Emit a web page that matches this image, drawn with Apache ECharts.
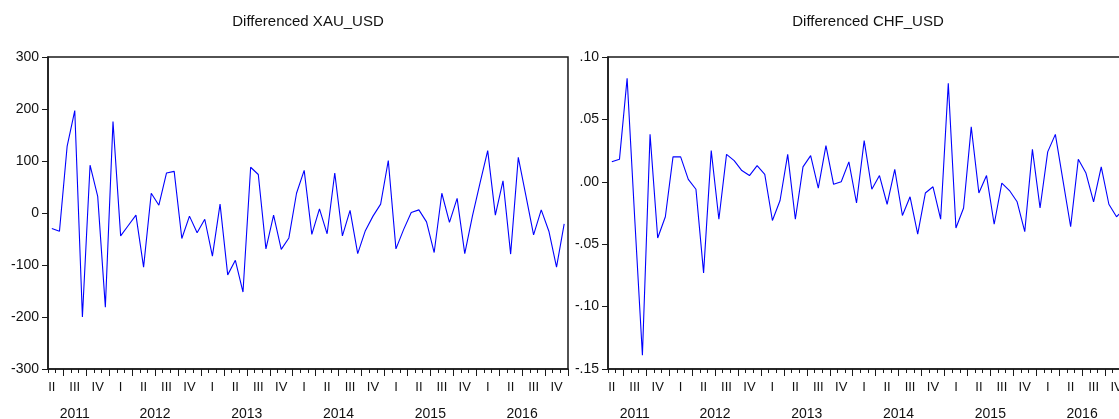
<!DOCTYPE html>
<html>
<head>
<meta charset="utf-8">
<script src="https://cdn.jsdelivr.net/npm/echarts@6/dist/echarts.min.js"></script>
<style>
html,body{margin:0;padding:0;background:#fff;}
#c{width:1119px;height:419px;}
</style>
</head>
<body>
<div id="c"></div>
<script>
// ---- data ----
const months = [
  '2011-05','2011-06','2011-07','2011-08','2011-09','2011-10','2011-11','2011-12',
  '2012-01','2012-02','2012-03','2012-04','2012-05','2012-06','2012-07','2012-08','2012-09','2012-10','2012-11','2012-12',
  '2013-01','2013-02','2013-03','2013-04','2013-05','2013-06','2013-07','2013-08','2013-09','2013-10','2013-11','2013-12',
  '2014-01','2014-02','2014-03','2014-04','2014-05','2014-06','2014-07','2014-08','2014-09','2014-10','2014-11','2014-12',
  '2015-01','2015-02','2015-03','2015-04','2015-05','2015-06','2015-07','2015-08','2015-09','2015-10','2015-11','2015-12',
  '2016-01','2016-02','2016-03','2016-04','2016-05','2016-06','2016-07','2016-08','2016-09','2016-10','2016-11','2016-12'
];
const xauDiff = [
  -30, -35, 128, 197, -200, 92, 32, -181, 176, -44, -24, -4, -104, 38, 15, 77, 80,
  -49, -6, -38, -12, -83, 17, -119, -91, -152, 88, 74, -69, -4, -70, -48, 38, 82,
  -41, 8, -40, 77, -44, 5, -78, -34, -6, 17, 101, -69, -32, 1, 6, -17, -76,
  38, -18, 28, -78, -6, 58, 120, -4, 62, -79, 107, 33, -42, 6, -35, -104, -21
];
const chfDiff = [
  0.016, 0.018, 0.083, -0.030, -0.139, 0.038, -0.045, -0.028, 0.020, 0.020, 0.002, -0.006, -0.073, 0.025, -0.030, 0.022, 0.017,
  0.009, 0.005, 0.013, 0.006, -0.031, -0.015, 0.022, -0.030, 0.012, 0.021, -0.005, 0.029, -0.002, 0.000, 0.016, -0.017, 0.033,
  -0.006, 0.005, -0.018, 0.010, -0.027, -0.012, -0.042, -0.009, -0.004, -0.030, 0.079, -0.037, -0.021, 0.044, -0.009, 0.005, -0.034,
  -0.001, -0.007, -0.016, -0.040, 0.026, -0.021, 0.024, 0.038, 0.001, -0.036, 0.018, 0.007, -0.016, 0.012, -0.018, -0.028, -0.022
];
const xauYTicks = [-300, -200, -100, 0, 100, 200, 300];
const chfYTicks = [-0.15, -0.10, -0.05, 0.00, 0.05, 0.10];
const quarterNames = ['I', 'II', 'III', 'IV'];
const titles = ['Differenced XAU_USD', 'Differenced CHF_USD'];

// ---- derived axis helpers ----
const parsed = months.map(s => ({ y: +s.slice(0, 4), m: +s.slice(5, 7) }));
const quarterMid = new Set();
parsed.forEach((p, i) => { if (p.m % 3 === 2) quarterMid.add(i); });
const quarterBounds = [];
parsed.forEach((p, i) => { if (p.m % 3 === 1) quarterBounds.push(i - 0.5); });
quarterBounds.push(months.length - 0.5);
const yearList = [...new Set(parsed.map(p => p.y))];
const yearCenters = yearList.map(y => {
  const idx = parsed.map((p, i) => p.y === y ? i : null).filter(v => v !== null);
  const f = idx[0], l = idx[idx.length - 1];
  const fs = f - ((parsed[f].m - 1) % 3);
  const le = l + (2 - (parsed[l].m - 1) % 3);
  return (fs + le) / 2;
});

const FONT = "'Liberation Sans', Arial, sans-serif";
const AXC = '#1a1a1a';
const grids = [
  { left: 48, top: 57, width: 520, height: 312 },
  { left: 608, top: 57, width: 520, height: 312 }
];

const xAxes = [], yAxes = [], series = [], titleArr = [];
const seriesData = [xauDiff, chfDiff];
const yTicks = [xauYTicks, chfYTicks];
const yFmt = [
  v => String(Math.round(v)),
  v => { let s = v.toFixed(2); return s.replace(/^(-?)0\./, '$1.'); }
];

for (let g = 0; g < 2; g++) {
  xAxes.push({
    type: 'category', gridIndex: g, data: months, boundaryGap: true, position: 'bottom',
    axisLine: { show: true, onZero: false, lineStyle: { color: AXC, width: 1.5 } },
    axisTick: { show: true, interval: 0, length: 4, inside: false, lineStyle: { color: AXC, width: 1 } },
    axisLabel: {
      interval: (i) => quarterMid.has(i),
      formatter: (v, i) => quarterNames[(parsed[i].m - 2) / 3],
      margin: 12, fontSize: 13, color: '#111', fontFamily: FONT
    },
    splitLine: { show: false }
  });
  xAxes.push({
    type: 'value', gridIndex: g, min: -0.5, max: months.length - 0.5, position: 'bottom',
    axisLine: { show: false, onZero: false },
    axisTick: { show: true, customValues: quarterBounds, length: 7, inside: false, lineStyle: { color: AXC, width: 1 } },
    axisLabel: {
      customValues: yearCenters,
      formatter: (v) => { const k = yearCenters.indexOf(v); return k >= 0 ? String(yearList[k]) : ''; },
      margin: 38, fontSize: 14, color: '#111', fontFamily: FONT
    },
    splitLine: { show: false }
  });
  const t = yTicks[g];
  yAxes.push({
    type: 'value', gridIndex: g, min: t[0], max: t[t.length - 1],
    interval: +(t[1] - t[0]).toFixed(6),
    position: 'left',
    axisLine: { show: true, onZero: false, lineStyle: { color: AXC, width: 1.5 } },
    axisTick: { show: true, length: 6, inside: false, lineStyle: { color: AXC, width: 1 } },
    axisLabel: { formatter: yFmt[g], margin: 9, fontSize: 14, color: '#111', fontFamily: FONT },
    splitLine: { show: false }
  });
  series.push({
    type: 'line', xAxisIndex: g * 2, yAxisIndex: g, data: seriesData[g],
    showSymbol: false, symbol: 'none',
    lineStyle: { color: '#0000ff', width: 1.1 }, itemStyle: { color: '#0000ff' },
    animation: false
  });
  titleArr.push({
    text: titles[g], left: grids[g].left + grids[g].width / 2, top: 14, textAlign: 'center', padding: 0,
    textStyle: { fontSize: 15, fontWeight: 'normal', color: '#111', fontFamily: FONT }
  });
}

const chart = echarts.init(document.getElementById('c'), null, { renderer: 'canvas' });
chart.setOption({
  animation: false,
  backgroundColor: '#fff',
  title: titleArr,
  grid: grids.map(gr => Object.assign({
    show: true, borderColor: AXC, borderWidth: 1.5, backgroundColor: 'transparent',
    containLabel: false, outerBoundsMode: 'none'
  }, gr)),
  xAxis: xAxes,
  yAxis: yAxes,
  series: series
});
</script>
</body>
</html>
